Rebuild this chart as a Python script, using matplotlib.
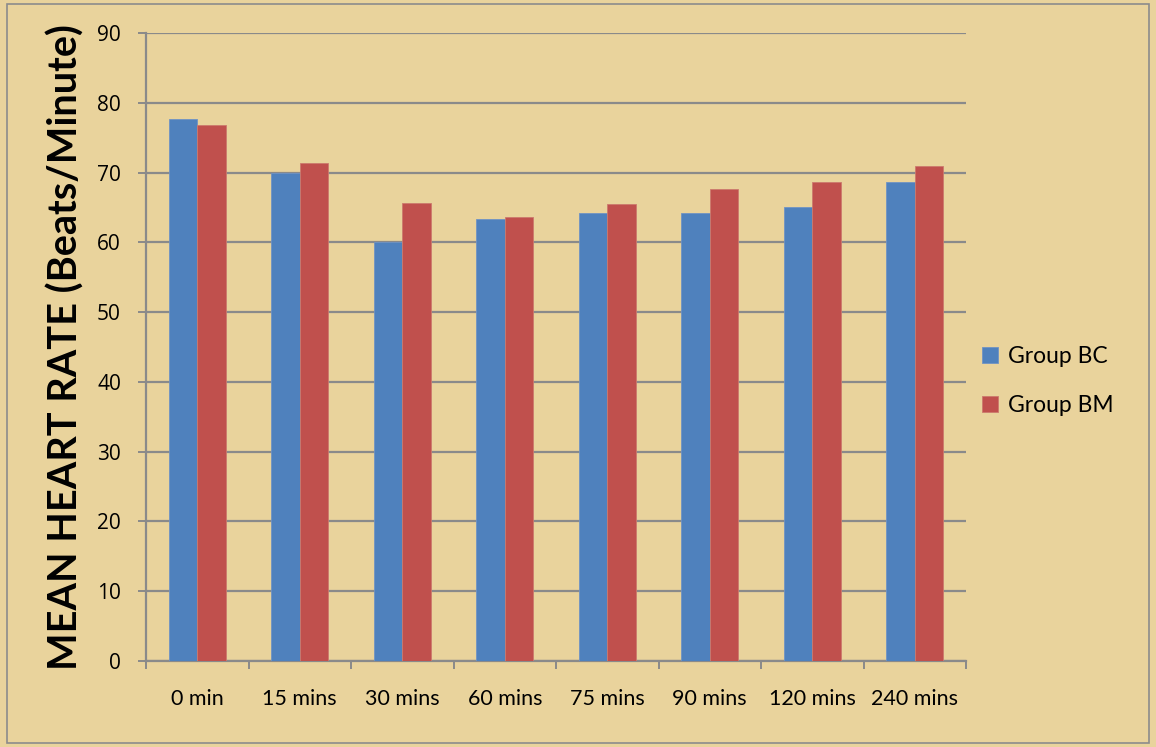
import numpy as np
import matplotlib.pyplot as plt
from matplotlib.patches import Rectangle

# mean heart rate per time point
times = ['0 min', '15 mins', '30 mins', '60 mins', '75 mins', '90 mins', '120 mins', '240 mins']
group_bc = [77.7, 69.9, 60.0, 63.3, 64.2, 64.2, 65.0, 68.6]
group_bm = [76.8, 71.4, 65.6, 63.6, 65.5, 67.7, 68.6, 71.0]

W, H = 1156, 747
bg = '#e9d39c'
grid_col = '#8a8a8a'

fig = plt.figure(figsize=(W / 100, H / 100), dpi=100)
fig.patch.set_facecolor(bg)
fig.patches.append(Rectangle((7 / W, 4 / H), (W - 14) / W, (H - 8) / H,
                             transform=fig.transFigure, fill=False,
                             edgecolor='#8c8c8c', linewidth=1.2))

ax = fig.add_axes([146 / W, (H - 661) / H, 820 / W, 628 / H])
ax.set_facecolor('none')

x = np.arange(len(times))
w = 0.278
ax.bar(x - w / 2, group_bc, w, color='#4f81bd', edgecolor='#6f93c4', linewidth=0.6,
       label='Group BC', zorder=3)
ax.bar(x + w / 2, group_bm, w, color='#c0504d', edgecolor='#cc7a6e', linewidth=0.6,
       label='Group BM', zorder=3)

ax.set_xlim(-0.5, len(times) - 0.5)
ax.set_ylim(0, 90)
ax.set_yticks(np.arange(0, 91, 10))
ax.yaxis.grid(True, color=grid_col, linewidth=1.6, zorder=1)
ax.set_axisbelow(True)

for s in ['top', 'right']:
    ax.spines[s].set_visible(False)
for s in ['left', 'bottom']:
    ax.spines[s].set_color(grid_col)
    ax.spines[s].set_linewidth(1.6)

ax.set_xticks(x)
ax.set_xticklabels(times, fontsize=15.5, family='Lato')
ax.set_xticks(np.arange(-0.5, len(times)), minor=True)
ax.tick_params(axis='x', which='major', length=0, pad=20)
ax.tick_params(axis='x', which='minor', length=6, width=1.4, color=grid_col, direction='out')
ax.tick_params(axis='y', length=6, width=1.4, color=grid_col, pad=12)
for t in ax.get_yticklabels():
    t.set_family('Open Sans')
    t.set_fontsize(15)

ax.set_ylabel('MEAN HEART RATE (Beats/Minute)', fontsize=28.5, fontweight='bold',
              family='Lato', labelpad=9)

ax.legend(loc='center left', bbox_to_anchor=(961 / W, (H - 381) / H),
          bbox_transform=fig.transFigure, frameon=False,
          handlelength=0.7, handleheight=0.7, handletextpad=0.45,
          labelspacing=1.2, prop={'family': 'Lato', 'size': 16.5})

fig.savefig('out.png', dpi=100, facecolor=bg)
